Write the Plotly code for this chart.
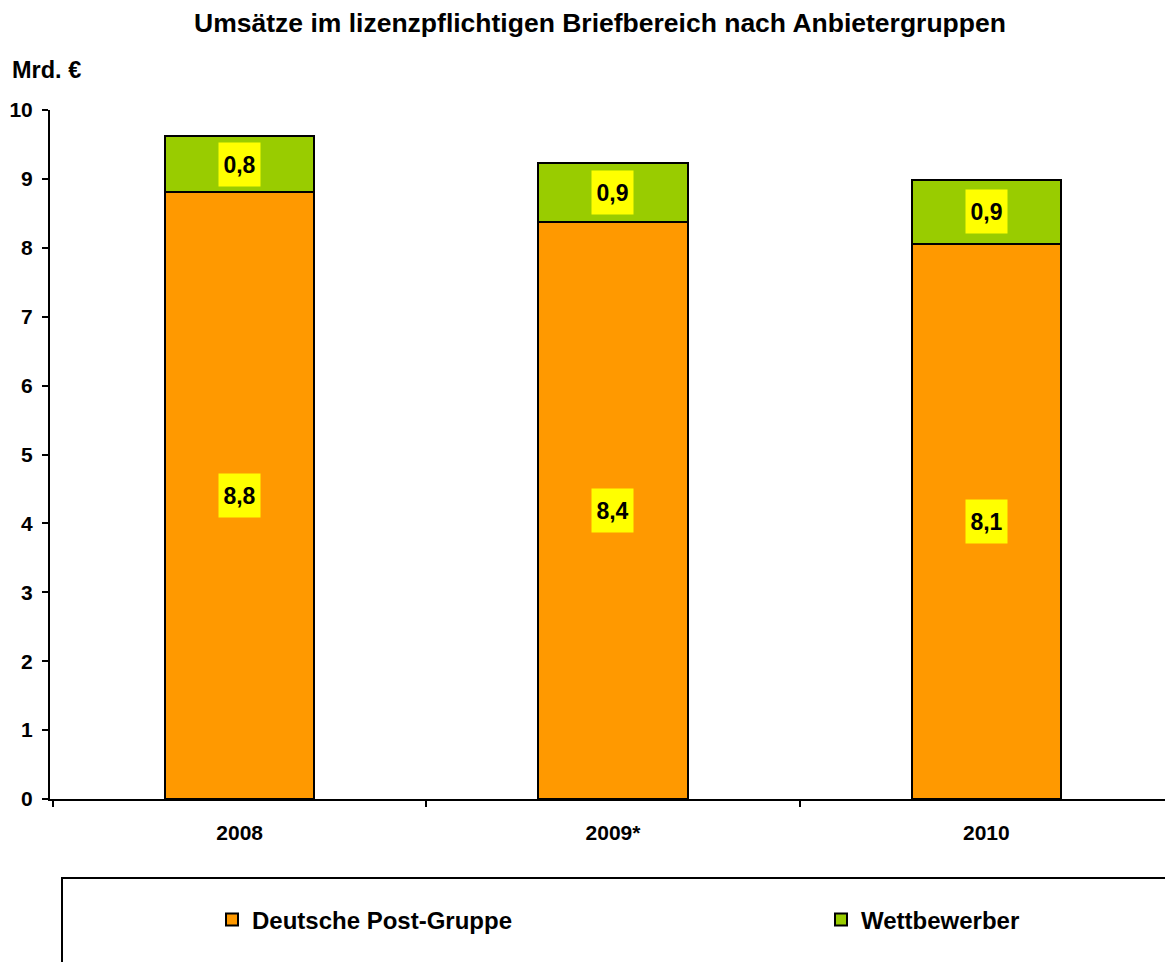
import plotly.graph_objects as go

categories = ["2008", "2009*", "2010"]
deutsche_post = [8.81, 8.37, 8.06]
wettbewerber = [0.81, 0.86, 0.93]
series_names = ["Deutsche Post-Gruppe", "Wettbewerber"]
colors = ["#FF9900", "#99CC00"]
y_ticks = list(range(0, 11))

FONT = "Liberation Sans, Arial, sans-serif"

def bfont(size):
    return dict(family=FONT, size=size, color="black", weight="bold")

fig = go.Figure()
fig.add_trace(go.Bar(x=categories, y=deutsche_post, name=series_names[0],
                     marker=dict(color=colors[0], line=dict(color="black", width=2)),
                     width=0.4, legend="legend"))
fig.add_trace(go.Bar(x=categories, y=wettbewerber, name=series_names[1],
                     marker=dict(color=colors[1], line=dict(color="black", width=2)),
                     width=0.4, legend="legend2"))

def fmt(v):
    return f"{v:.1f}".replace(".", ",")

annotations = []
for i, (a, b) in enumerate(zip(deutsche_post, wettbewerber)):
    for base, val in ((0, a), (a, b)):
        annotations.append(dict(
            x=i, y=base + val / 2, xref="x", yref="y", text=fmt(val),
            showarrow=False, bgcolor="#FFFF00", borderpad=0, width=41, height=43,
            font=bfont(23)))

annotations.append(dict(
    text="Mrd. €", xref="paper", yref="paper", x=-0.036, y=1 + (110 - 70) / 689,
    xanchor="left", yanchor="middle", showarrow=False, font=bfont(23.5)))

legend_common = dict(orientation="h", y=-(920 - 799) / 689, yanchor="middle",
                     font=bfont(24), bgcolor="rgba(0,0,0,0)", borderwidth=0)

# page is rendered with an 8px body margin, so the figure is 8px smaller
fig.update_layout(
    width=1165, height=954,
    margin=dict(l=42, r=0, t=102, b=163, autoexpand=False),
    barmode="stack",
    plot_bgcolor="white", paper_bgcolor="white",
    title=dict(text="Umsätze im lizenzpflichtigen Briefbereich nach Anbietergruppen",
               x=(600 - 8) / 1165, xanchor="center", y=1 - 15 / 954, yanchor="middle",
               font=bfont(26.5)),
    font=dict(family=FONT, color="black"),
    showlegend=True,
    legend=dict(x=(212 - 50) / 1123, xanchor="left", **legend_common),
    legend2=dict(x=(821 - 50) / 1123, xanchor="left", **legend_common),
    annotations=annotations,
    shapes=[dict(type="rect", xref="paper", yref="paper",
                 x0=(62 - 50) / 1123, x1=1.05, y0=-0.4, y1=-(878 - 799) / 689,
                 line=dict(color="black", width=2), fillcolor="rgba(0,0,0,0)")],
)

fig.update_xaxes(type="category", range=[-0.508, 2.5], showline=True, linecolor="black",
                 linewidth=2, ticks="outside", tickson="boundaries", ticklen=6,
                 tickcolor="black", tickwidth=2, showgrid=False, ticklabelstandoff=14,
                 automargin=False, tickangle=0, tickfont=bfont(21))
fig.update_yaxes(range=[0, 10], tickvals=y_ticks, showline=True, linecolor="black",
                 linewidth=2, ticks="outside", ticklen=6, tickcolor="black", tickwidth=2,
                 showgrid=False, zeroline=False, ticklabelstandoff=5, automargin=False,
                 tickfont=bfont(21))

fig.write_html("out.html")
